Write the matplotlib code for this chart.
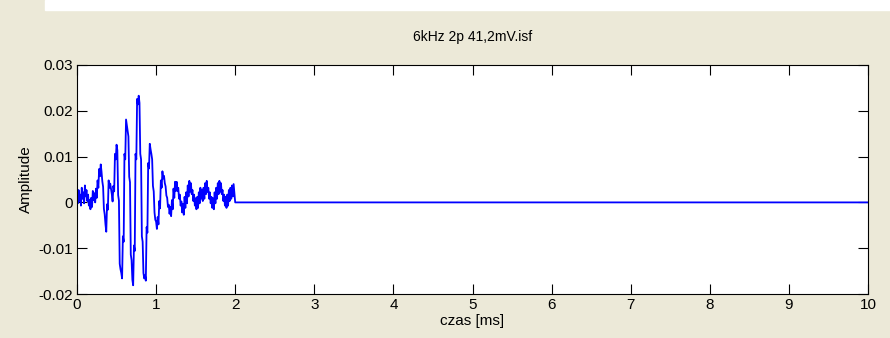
import numpy as np
import matplotlib
matplotlib.use("Agg")
import matplotlib.pyplot as plt
from matplotlib.patches import Rectangle

title = "6kHz 2p 41,2mV.isf"
xlabel = "czas [ms]"
ylabel = "Amplitude"

# signal sampled every 0.01 ms from 0 to 1.99 ms (upper/lower edge of the noisy trace)
amp = [
    0.0022, -0.0002, 0.0027, 0.0003, 0.0017, -0.0007, 0.0032, 0.0008, 0.0022, -0.0002,
    0.0037, 0.0013, 0.0027, 0.0003, 0.0017, -0.0007, 0.0005, -0.0015, 0.0010, -0.0010,
    0.0025, 0.0005, 0.0020, 0.0000, 0.0030, 0.0010, 0.0048, 0.0032, 0.0073, 0.0057,
    0.0083, 0.0067, 0.0046, 0.0034, -0.0014, -0.0026, -0.0048, -0.0064, -0.0004, -0.0016,
    0.0048, 0.0032, 0.0041, 0.0029, 0.0018, 0.0002, 0.0036, 0.0024, 0.0106, 0.0094,
    0.0126, 0.0114, 0.0016, 0.0004, -0.0134, -0.0146, -0.0154, -0.0166, -0.0074, -0.0086,
    0.0106, 0.0094, 0.0181, 0.0169, 0.0156, 0.0144, 0.0056, 0.0044, -0.0114, -0.0126,
    -0.0169, -0.0181, -0.0094, -0.0106, 0.0106, 0.0094, 0.0226, 0.0214, 0.0233, 0.0217,
    0.0106, 0.0094, -0.0074, -0.0086, -0.0154, -0.0166, -0.0159, -0.0171, -0.0054, -0.0066,
    0.0086, 0.0074, 0.0128, 0.0116, 0.0106, 0.0094, 0.0036, 0.0024, -0.0022, -0.0038,
    -0.0042, -0.0058, -0.0032, -0.0048, 0.0003, -0.0013, 0.0048, 0.0032, 0.0068, 0.0052,
    0.0058, 0.0042, 0.0035, 0.0015, 0.0010, -0.0010, -0.0005, -0.0025, -0.0010, -0.0030,
    0.0005, -0.0015, 0.0030, 0.0010, 0.0045, 0.0025, 0.0045, 0.0025, 0.0032, 0.0008,
    0.0017, -0.0007, 0.0002, -0.0022, -0.0003, -0.0027, 0.0012, -0.0012, 0.0022, -0.0002,
    0.0037, 0.0013, 0.0047, 0.0023, 0.0042, 0.0018, 0.0027, 0.0003, 0.0017, -0.0007,
    0.0009, -0.0015, 0.0012, -0.0012, 0.0022, -0.0002, 0.0032, 0.0008, 0.0027, 0.0003,
    0.0032, 0.0008, 0.0042, 0.0018, 0.0047, 0.0023, 0.0032, 0.0008, 0.0022, -0.0002,
    0.0012, -0.0012, 0.0009, -0.0015, 0.0022, -0.0002, 0.0032, 0.0008, 0.0042, 0.0018,
    0.0047, 0.0023, 0.0042, 0.0018, 0.0027, 0.0003, 0.0017, -0.0007, 0.0012, -0.0012,
    0.0017, -0.0007, 0.0027, 0.0003, 0.0032, 0.0008, 0.0037, 0.0013, 0.0040, 0.0020,
]
# after 2 ms the record is flat
tail_t = [2.0, 10.0]
tail_amp = [0.0, 0.0]

t = np.arange(len(amp)) * 0.01
t = np.concatenate([t, tail_t])
y = np.concatenate([amp, tail_amp])

beige = "#ECE9D8"
font = ["Liberation Sans Narrow", "Liberation Sans", "DejaVu Sans"]

fig = plt.figure(figsize=(8.9, 3.38), dpi=100, facecolor=beige)
# white strip along the top of the screenshot
fig.patches.append(Rectangle((45 / 890, 1 - 10 / 338), 1, 10 / 338,
                             transform=fig.transFigure, color="white", zorder=0))

ax = fig.add_axes([77 / 890, 44 / 338, 791 / 890, 229 / 338])
ax.plot(t, y, color=(0, 0, 1), linewidth=1.3)

ax.set_xlim(0, 10)
ax.set_ylim(-0.02, 0.03)
ax.set_xticks(range(0, 11))
ax.set_yticks([-0.02, -0.01, 0, 0.01, 0.02, 0.03])
ax.set_yticklabels(["-0.02", "-0.01", "0", "0.01", "0.02", "0.03"])
ax.tick_params(direction="in", length=7, width=0.8, top=True, right=True,
               labelsize=11, pad=3)
for lab in ax.get_xticklabels() + ax.get_yticklabels():
    lab.set_family(font)
for s in ax.spines.values():
    s.set_linewidth(0.8)

ax.set_title(title, family=font, fontsize=10, pad=17)
ax.set_xlabel(xlabel, family=font, fontsize=11, labelpad=1)
ax.set_ylabel(ylabel, family=font, fontsize=11, labelpad=4)

fig.savefig("out.png", dpi=100, facecolor=beige)
